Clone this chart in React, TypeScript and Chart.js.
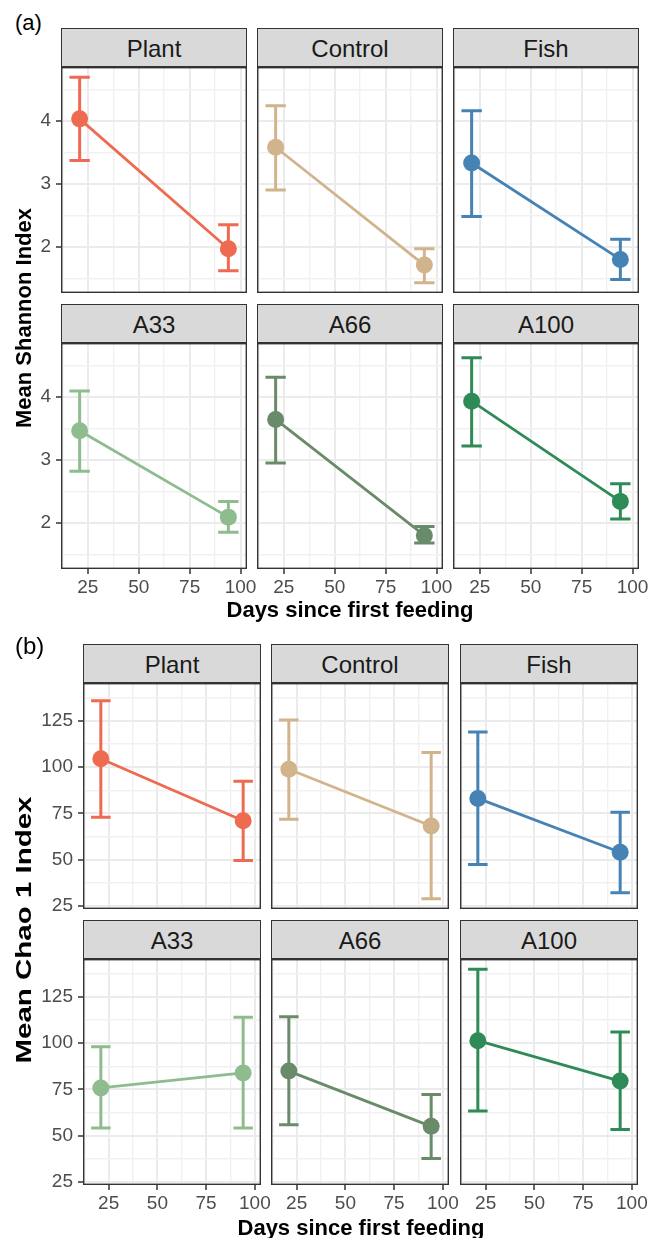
import React, { useEffect, useRef } from 'react';
import { Chart, registerables } from 'chart.js';

Chart.register(...registerables);

const FONT = '"Liberation Sans", Arial, Helvetica, sans-serif';

// ---------------- data ----------------
const groups = ['Plant', 'Control', 'Fish', 'A33', 'A66', 'A100'];
const groupColors = ['#EE6A50', '#D2B48C', '#4682B4', '#8FBC8F', '#698B69', '#2E8B57'];
const days = [21, 94];

const shannonMean = [[4.03, 1.97], [3.58, 1.71], [3.33, 1.8], [3.46, 2.09], [3.64, 1.8], [3.93, 2.34]];
const shannonLower = [[3.37, 1.62], [2.9, 1.43], [2.48, 1.48], [2.82, 1.85], [2.95, 1.68], [3.22, 2.06]];
const shannonUpper = [[4.69, 2.35], [4.24, 1.97], [4.16, 2.12], [4.09, 2.34], [4.31, 1.94], [4.62, 2.62]];

const chaoMean = [[104.5, 71.1], [98.8, 68.2], [83.1, 54.1], [75.8, 83.9], [84.9, 55.1], [101.3, 79.5]];
const chaoLower = [[72.9, 49.6], [71.8, 29.0], [47.5, 32.2], [54.2, 54.2], [56.0, 37.7], [63.4, 53.4]];
const chaoUpper = [[135.8, 92.4], [125.4, 107.8], [118.9, 75.7], [98.0, 113.9], [114.2, 72.3], [139.8, 106.0]];

const dayTicks = [25, 50, 75, 100];
const dayMinorTicks = [12.5, 37.5, 62.5, 87.5];
const shannonTicks = [2, 3, 4];
const shannonMinorTicks = [1.5, 2.5, 3.5, 4.5];
const chaoTicks = [25, 50, 75, 100, 125];
const chaoMinorTicks = [37.5, 62.5, 87.5, 112.5, 137.5];

const errorBarWidth = 10; // in days (ggplot errorbar width)

// ---------------- helpers ----------------
function expand(lo: number, hi: number): [number, number] {
  const p = (hi - lo) * 0.05;
  return [lo - p, hi + p];
}

const xRange = expand(Math.min(...days) - errorBarWidth / 2, Math.max(...days) + errorBarWidth / 2);

type FacetProps = {
  canvasLeft: number;
  canvasTop: number;
  plotW: number;
  plotH: number;
  L: number;
  B: number;
  R: number;
  P: number;
  showY: boolean;
  showX: boolean;
  yRange: [number, number];
  yMajor: number[];
  yMinor: number[];
  mean: number[];
  lower: number[];
  upper: number[];
  color: string;
};

function Facet(p: FacetProps) {
  const ref = useRef<HTMLCanvasElement>(null);
  const W = p.plotW + p.L + p.R;
  const H = p.plotH + p.B + p.P;

  useEffect(() => {
    if (!ref.current) return;
    const isMajorX = (v: number) => dayTicks.includes(v);
    const isMajorY = (v: number) => p.yMajor.includes(v);

    const errorBars = {
      id: 'errorBars',
      beforeDatasetsDraw(chart: any) {
        const { ctx } = chart;
        const xs = chart.scales.x;
        const ys = chart.scales.y;
        ctx.save();
        ctx.strokeStyle = p.color;
        ctx.lineWidth = 3;
        ctx.lineCap = 'butt';
        days.forEach((d, i) => {
          const px = xs.getPixelForValue(d);
          const pl = xs.getPixelForValue(d - errorBarWidth / 2);
          const pr = xs.getPixelForValue(d + errorBarWidth / 2);
          const yl = ys.getPixelForValue(p.lower[i]);
          const yu = ys.getPixelForValue(p.upper[i]);
          ctx.beginPath();
          ctx.moveTo(px, yl);
          ctx.lineTo(px, yu);
          ctx.moveTo(pl, yu);
          ctx.lineTo(pr, yu);
          ctx.moveTo(pl, yl);
          ctx.lineTo(pr, yl);
          ctx.stroke();
        });
        ctx.restore();
      },
    };

    const panelBorder = {
      id: 'panelBorder',
      afterDraw(chart: any) {
        const { ctx, chartArea: a } = chart;
        ctx.save();
        ctx.strokeStyle = '#333333';
        ctx.lineWidth = 1.4;
        ctx.strokeRect(a.left + 0.7, a.top + 0.7, a.right - a.left - 1.4, a.bottom - a.top - 1.4);
        ctx.restore();
      },
    };

    const tickFont = { family: FONT, size: 19 };

    const chart = new Chart(ref.current, {
      type: 'scatter',
      data: {
        datasets: [
          {
            data: days.map((d, i) => ({ x: d, y: p.mean[i] })),
            showLine: true,
            borderColor: p.color,
            backgroundColor: p.color,
            borderWidth: 2.8,
            pointRadius: 8.5,
            pointHoverRadius: 8.5,
            pointBorderWidth: 0,
            pointBackgroundColor: p.color,
            clip: false,
          } as any,
        ],
      },
      options: {
        responsive: false,
        animation: false,
        devicePixelRatio: 1,
        events: [],
        layout: { autoPadding: false, padding: { left: 0, top: 0, right: p.R, bottom: p.P } },
        plugins: {
          legend: { display: false },
          tooltip: { enabled: false },
          title: { display: false },
        },
        scales: {
          x: {
            type: 'linear',
            min: xRange[0],
            max: xRange[1],
            bounds: 'data',
            afterBuildTicks: (s: any) => {
              s.ticks = [...dayTicks, ...dayMinorTicks].sort((a, b) => a - b).map((v) => ({ value: v }));
            },
            afterFit: (s: any) => {
              s.height = p.showX ? p.B : 0;
              s.paddingLeft = 0;
              s.paddingRight = 0;
              s.paddingTop = 0;
              s.paddingBottom = 0;
            },
            ticks: {
              display: p.showX,
              autoSkip: false,
              maxRotation: 0,
              minRotation: 0,
              padding: 2,
              color: '#4D4D4D',
              font: tickFont,
              callback: (v: any) => (isMajorX(Number(v)) ? String(v) : ''),
            },
            grid: {
              color: (c: any) => (c.tick && isMajorX(c.tick.value) ? '#EBEBEB' : '#F1F1F1'),
              lineWidth: (c: any) => (c.tick && isMajorX(c.tick.value) ? 2 : 1.4),
              drawTicks: p.showX,
              tickLength: 5,
              tickWidth: 1.5,
              tickColor: (c: any) => (c.tick && isMajorX(c.tick.value) ? '#333333' : 'rgba(0,0,0,0)'),
            },
            border: { display: false },
          },
          y: {
            type: 'linear',
            min: p.yRange[0],
            max: p.yRange[1],
            bounds: 'data',
            afterBuildTicks: (s: any) => {
              s.ticks = [...p.yMajor, ...p.yMinor].sort((a, b) => a - b).map((v) => ({ value: v }));
            },
            afterFit: (s: any) => {
              s.width = p.showY ? p.L : 0;
              s.paddingLeft = 0;
              s.paddingRight = 0;
              s.paddingTop = 0;
              s.paddingBottom = 0;
            },
            ticks: {
              display: p.showY,
              autoSkip: false,
              padding: 5,
              color: '#4D4D4D',
              font: tickFont,
              callback: (v: any) => (isMajorY(Number(v)) ? String(v) : ''),
            },
            grid: {
              color: (c: any) => (c.tick && isMajorY(c.tick.value) ? '#EBEBEB' : '#F1F1F1'),
              lineWidth: (c: any) => (c.tick && isMajorY(c.tick.value) ? 2 : 1.4),
              drawTicks: p.showY,
              tickLength: 5,
              tickWidth: 1.5,
              tickColor: (c: any) => (c.tick && isMajorY(c.tick.value) ? '#333333' : 'rgba(0,0,0,0)'),
            },
            border: { display: false },
          },
        },
      } as any,
      plugins: [errorBars, panelBorder],
    });
    return () => chart.destroy();
  }, []);

  return (
    <canvas
      ref={ref}
      width={W}
      height={H}
      style={{ position: 'absolute', left: p.canvasLeft, top: p.canvasTop, width: W, height: H }}
    />
  );
}

type PanelSpec = {
  tag: string;
  tagLeft: number;
  tagTop: number;
  tagSize: number;
  yTitle: string;
  yTitleCX: number;
  yTitleCY: number;
  yTitleStretch: number;
  xTitleCX: number;
  xTitleTop: number;
  lefts: number[];
  plotW: number;
  stripTops: number[];
  plotTops: number[];
  plotH: number;
  mean: number[][];
  lower: number[][];
  upper: number[][];
  yMajor: number[];
  yMinor: number[];
};

function Panel({ s }: { s: PanelSpec }) {
  const yRange = expand(Math.min(...s.lower.flat()), Math.max(...s.upper.flat()));
  const items: any[] = [];
  for (let r = 0; r < 2; r++) {
    for (let c = 0; c < 3; c++) {
      const gi = r * 3 + c;
      const L = c === 0 ? 45 : 0;
      const B = r === 1 ? 32 : 0;
      const R = r === 1 ? 18 : 0;
      const P = c === 0 && r === 0 ? 10 : 0;
      items.push(
        <div
          key={'strip' + gi}
          style={{
            position: 'absolute',
            left: s.lefts[c],
            top: s.stripTops[r],
            width: s.plotW,
            height: s.plotTops[r] - s.stripTops[r],
            boxSizing: 'border-box',
            border: '1px solid #333333',
            background: '#D9D9D9',
            color: '#1A1A1A',
            fontFamily: FONT,
            fontSize: 24,
            display: 'flex',
            alignItems: 'center',
            justifyContent: 'center',
            paddingTop: 2,
          }}
        >
          {groups[gi]}
        </div>
      );
      items.push(
        <Facet
          key={'facet' + gi}
          canvasLeft={s.lefts[c] - L}
          canvasTop={s.plotTops[r]}
          plotW={s.plotW}
          plotH={s.plotH}
          L={L}
          B={B}
          R={R}
          P={P}
          showY={c === 0}
          showX={r === 1}
          yRange={yRange}
          yMajor={s.yMajor}
          yMinor={s.yMinor}
          mean={s.mean[gi]}
          lower={s.lower[gi]}
          upper={s.upper[gi]}
          color={groupColors[gi]}
        />
      );
    }
  }
  return (
    <>
      <div
        style={{
          position: 'absolute',
          left: s.tagLeft,
          top: s.tagTop,
          fontFamily: FONT,
          fontSize: s.tagSize,
          lineHeight: `${s.tagSize}px`,
          color: '#000',
        }}
      >
        {s.tag}
      </div>
      {items}
      <div
        style={{
          position: 'absolute',
          left: s.yTitleCX,
          top: s.yTitleCY,
          transform: `translate(-50%, -50%) rotate(-90deg) scaleX(${s.yTitleStretch})`,
          whiteSpace: 'nowrap',
          fontFamily: FONT,
          fontWeight: 'bold',
          fontSize: 22,
          lineHeight: '22px',
          color: '#000',
        }}
      >
        {s.yTitle}
      </div>
      <div
        style={{
          position: 'absolute',
          left: s.xTitleCX,
          top: s.xTitleTop,
          transform: 'translateX(-50%)',
          whiteSpace: 'nowrap',
          fontFamily: FONT,
          fontWeight: 'bold',
          fontSize: 22,
          lineHeight: '22px',
          color: '#000',
        }}
      >
        Days since first feeding
      </div>
    </>
  );
}

const panelA: PanelSpec = {
  tag: '(a)',
  tagLeft: 15,
  tagTop: 12,
  tagSize: 22,
  yTitle: 'Mean Shannon Index',
  yTitleCX: 24,
  yTitleCY: 318,
  yTitleStretch: 1,
  xTitleCX: 350,
  xTitleTop: 599,
  lefts: [61, 257, 453],
  plotW: 186,
  stripTops: [28, 304],
  plotTops: [67, 343],
  plotH: 226,
  mean: shannonMean,
  lower: shannonLower,
  upper: shannonUpper,
  yMajor: shannonTicks,
  yMinor: shannonMinorTicks,
};

const panelB: PanelSpec = {
  tag: '(b)',
  tagLeft: 15,
  tagTop: 634,
  tagSize: 24,
  yTitle: 'Mean Chao 1 Index',
  yTitleCX: 24,
  yTitleCY: 930,
  yTitleStretch: 1.34,
  xTitleCX: 361,
  xTitleTop: 1217,
  lefts: [83, 271, 460],
  plotW: 178,
  stripTops: [644, 920],
  plotTops: [683, 959],
  plotH: 226,
  mean: chaoMean,
  lower: chaoLower,
  upper: chaoUpper,
  yMajor: chaoTicks,
  yMinor: chaoMinorTicks,
};

export default function App() {
  return (
    <div
      style={{
        position: 'absolute',
        left: 0,
        top: 0,
        width: 659,
        height: 1238,
        overflow: 'hidden',
        background: '#ffffff',
      }}
    >
      <Panel s={panelA} />
      <Panel s={panelB} />
    </div>
  );
}
